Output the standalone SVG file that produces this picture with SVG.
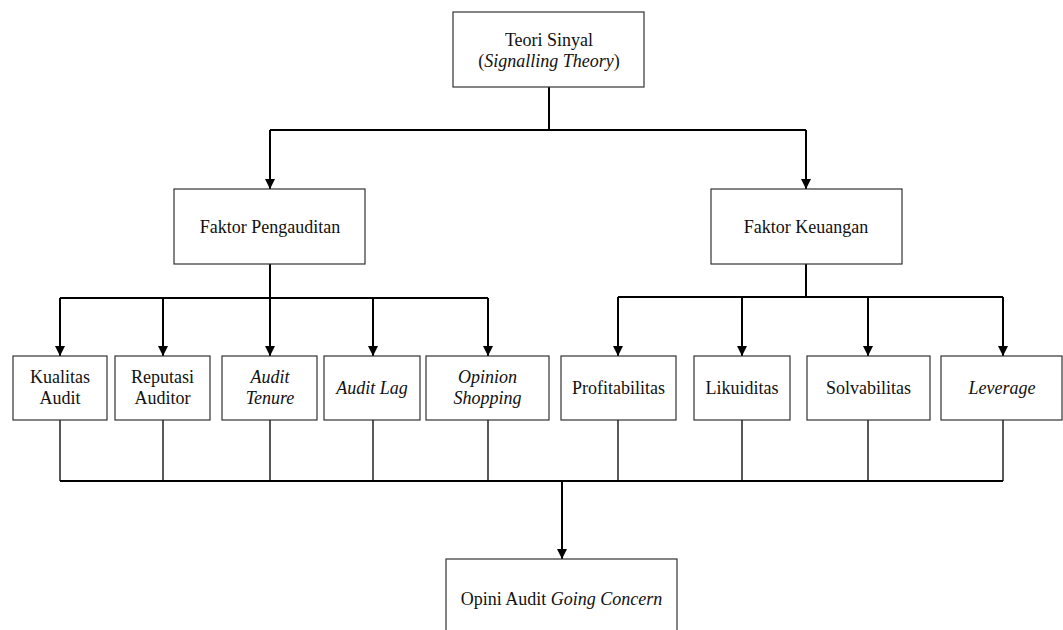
<svg xmlns="http://www.w3.org/2000/svg" width="1063" height="630" viewBox="0 0 1063 630" font-family="'Liberation Serif', 'DejaVu Serif', serif">
<style>
.box{fill:#fff;stroke:#333;stroke-width:1.2}
.t{font-family:'Liberation Serif','DejaVu Serif',serif;font-size:18px;fill:#111;text-anchor:middle}
.i{font-style:italic}
.c{fill:none;stroke:#000;stroke-width:2}
.c1{fill:none;stroke:#000;stroke-width:1.3}
</style>
<defs>
<marker id="ah" markerWidth="10" markerHeight="10" refX="10" refY="5" orient="auto" markerUnits="userSpaceOnUse">
<path d="M0,0 L10,5 L0,10 Z" fill="#000"/>
</marker>
</defs>
<rect width="1063" height="630" fill="#fff"/>
<g id="connectors">
<path class="c" d="M549,87 V130"/>
<path class="c" d="M270,130 H806"/>
<path class="c" d="M270,130 V189" marker-end="url(#ah)"/>
<path class="c" d="M806,130 V189" marker-end="url(#ah)"/>
<path class="c" d="M270,264 V298"/>
<path class="c" d="M60,298 H488"/>
<path class="c" d="M60,298 V356" marker-end="url(#ah)"/>
<path class="c" d="M163,298 V356" marker-end="url(#ah)"/>
<path class="c" d="M270,298 V356" marker-end="url(#ah)"/>
<path class="c" d="M373,298 V356" marker-end="url(#ah)"/>
<path class="c" d="M488,298 V356" marker-end="url(#ah)"/>
<path class="c" d="M806,264 V297"/>
<path class="c" d="M618,297 H1003"/>
<path class="c" d="M618,297 V356" marker-end="url(#ah)"/>
<path class="c" d="M742,297 V356" marker-end="url(#ah)"/>
<path class="c" d="M868,297 V356" marker-end="url(#ah)"/>
<path class="c" d="M1003,297 V356" marker-end="url(#ah)"/>
<path class="c1" d="M60,420 V481 M163,420 V481 M270,420 V481 M373,420 V481 M488,420 V481 M618,420 V481 M742,420 V481 M868,420 V481 M1003,420 V481"/>
<path class="c" d="M60,481 H1003"/>
<path class="c" d="M562,481 V559" marker-end="url(#ah)"/>
</g>
<g id="teori">
<rect class="box" x="453" y="12" width="191" height="75"/>
<text class="t" x="549" y="46">Teori Sinyal</text>
<text class="t" x="549" y="67">(<tspan class="i">Signalling Theory</tspan>)</text>
</g>
<g id="faktor-pengauditan">
<rect class="box" x="174" y="189" width="191" height="75"/>
<text class="t" x="270" y="233">Faktor Pengauditan</text>
</g>
<g id="faktor-keuangan">
<rect class="box" x="711" y="189" width="191" height="75"/>
<text class="t" x="806" y="233">Faktor Keuangan</text>
</g>
<g id="kualitas-audit">
<rect class="box" x="13" y="356" width="94" height="64"/>
<text class="t" x="60" y="383">Kualitas</text>
<text class="t" x="60" y="404">Audit</text>
</g>
<g id="reputasi-auditor">
<rect class="box" x="115" y="356" width="95" height="64"/>
<text class="t" x="162.5" y="383">Reputasi</text>
<text class="t" x="162.5" y="404">Auditor</text>
</g>
<g id="audit-tenure">
<rect class="box" x="222" y="356" width="95" height="64"/>
<text class="t i" x="270" y="383">Audit</text>
<text class="t i" x="270" y="404">Tenure</text>
</g>
<g id="audit-lag">
<rect class="box" x="324" y="356" width="96" height="64"/>
<text class="t i" x="372" y="394">Audit Lag</text>
</g>
<g id="opinion-shopping">
<rect class="box" x="426" y="356" width="123" height="64"/>
<text class="t i" x="487.5" y="383">Opinion</text>
<text class="t i" x="487.5" y="404">Shopping</text>
</g>
<g id="profitabilitas">
<rect class="box" x="561" y="356" width="115" height="64"/>
<text class="t" x="618.5" y="394">Profitabilitas</text>
</g>
<g id="likuiditas">
<rect class="box" x="694" y="356" width="96" height="64"/>
<text class="t" x="742" y="394">Likuiditas</text>
</g>
<g id="solvabilitas">
<rect class="box" x="807" y="356" width="123" height="64"/>
<text class="t" x="868.5" y="394">Solvabilitas</text>
</g>
<g id="leverage">
<rect class="box" x="941" y="356" width="121" height="64"/>
<text class="t i" x="1002" y="394">Leverage</text>
</g>
<g id="opini-audit">
<rect class="box" x="446" y="559" width="231" height="90"/>
<text class="t" x="561.5" y="605">Opini Audit <tspan class="i">Going Concern</tspan></text>
</g>
</svg>
